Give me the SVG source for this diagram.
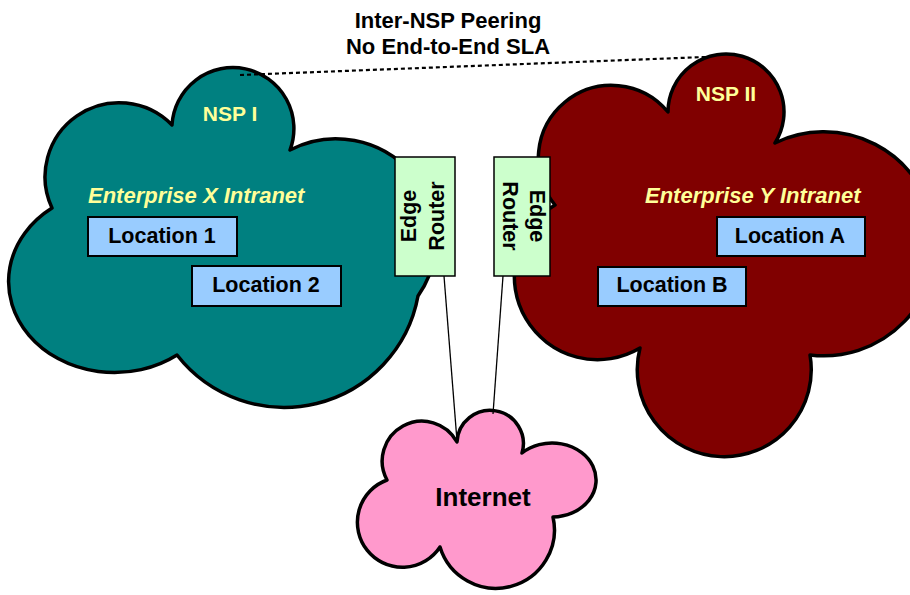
<svg xmlns="http://www.w3.org/2000/svg" width="910" height="595" viewBox="0 0 910 595">
<style>
.cloud{stroke:#000;stroke-width:3.5;stroke-linejoin:round}
.t{font-family:"Liberation Sans",Arial,sans-serif;font-weight:bold;font-size:21.5px;fill:#000}
.y{fill:#FFFF99}
.it{font-style:italic;font-size:22px}
.loc{fill:#99CCFF;stroke:#000;stroke-width:2}
.rtr{fill:#CCFFCC;stroke:#000;stroke-width:1.5}
.conn{stroke:#000;stroke-width:1.3;fill:none}
</style>
<rect width="910" height="595" fill="#fff"/>
<g id="nsp1">
<path class="cloud" fill="#008080" d="M172,125 A61,61 0 1 1 290,150 A100,100 0 0 1 418,296 A136,136 0 0 1 177,355 A100,86 0 1 1 52,208 A74,74 0 0 1 172,125 Z"/>
<text class="t y" x="230" y="121" text-anchor="middle" style="font-size:21px">NSP I</text>
<text class="t y it" x="88" y="203">Enterprise X Intranet</text>
</g>
<g id="loc1"><rect class="loc" x="88" y="217" width="149" height="39"/><text class="t" x="162" y="243" text-anchor="middle">Location 1</text></g>
<g id="loc2"><rect class="loc" x="192" y="266" width="149" height="40"/><text class="t" x="266" y="292" text-anchor="middle">Location 2</text></g>
<g id="nsp2">
<path class="cloud" fill="#800000" d="M668,112 A58,58 0 1 1 775,143 A112,112 0 1 1 810,355 A87,87 0 1 1 640,348 A83,83 0 0 1 555,205 A73,73 0 0 1 668,112 Z"/>
<text class="t y" x="726" y="101" text-anchor="middle" style="font-size:21px">NSP II</text>
<text class="t y it" x="645" y="203">Enterprise Y Intranet</text>
</g>
<g id="locA"><rect class="loc" x="717" y="217" width="148" height="39"/><text class="t" x="790" y="243" text-anchor="middle">Location A</text></g>
<g id="locB"><rect class="loc" x="598" y="267" width="148" height="39"/><text class="t" x="672" y="292" text-anchor="middle">Location B</text></g>
<g id="router1">
<rect class="rtr" x="395" y="157" width="60" height="119"/>
<text class="t" transform="translate(416,216) rotate(-90)" text-anchor="middle">Edge</text>
<text class="t" transform="translate(444,216) rotate(-90)" text-anchor="middle">Router</text>
</g>
<g id="router2">
<rect class="rtr" x="494" y="157" width="56" height="119"/>
<text class="t" transform="translate(530,216) rotate(90)" text-anchor="middle">Edge</text>
<text class="t" transform="translate(503,216) rotate(90)" text-anchor="middle">Router</text>
</g>
<g id="internet">
<path class="cloud" fill="#FF99CC" d="M457,442 A33.2,33.2 0 1 1 522,453 A44,37 0 1 1 553,517 A58.5,58.5 0 0 1 440,547 A45,45 0 1 1 387,480 A39,39 0 0 1 457,442 Z"/>
<text class="t" x="483" y="506" text-anchor="middle" style="font-size:26px">Internet</text>
</g>
<g id="connectors">
<line class="conn" x1="444" y1="276" x2="457" y2="441"/>
<line class="conn" x1="503" y1="276" x2="493" y2="414"/>
<line x1="240" y1="75" x2="705" y2="57" stroke="#000" stroke-width="2.2" stroke-dasharray="4,3"/>
</g>
<g id="label">
<text class="t" x="448" y="28" text-anchor="middle" style="font-size:22px">Inter-NSP Peering</text>
<text class="t" x="448" y="54" text-anchor="middle" style="font-size:22px">No End-to-End SLA</text>
</g>
</svg>
